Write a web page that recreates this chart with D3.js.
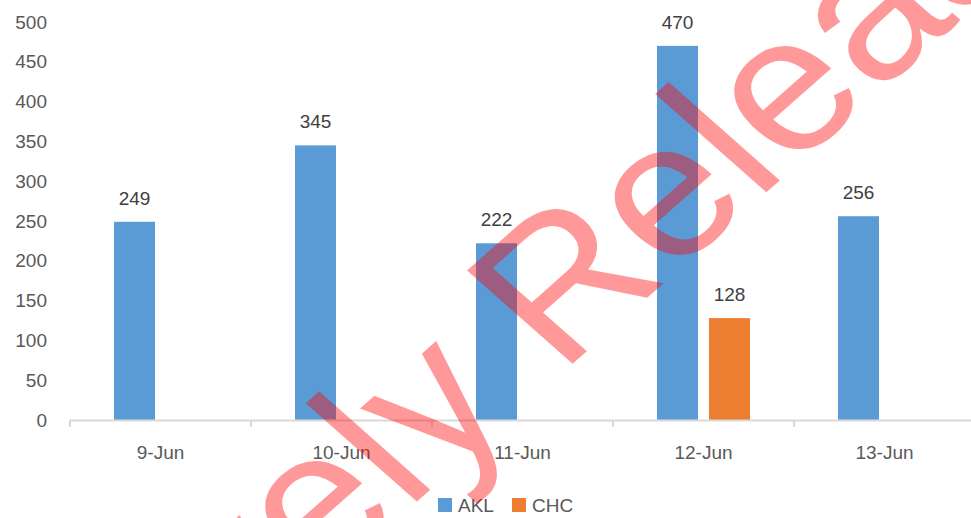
<!DOCTYPE html>
<html>
<head>
<meta charset="utf-8">
<script src="https://cdn.jsdelivr.net/npm/d3@7"></script>
<style>
    body { margin: 0; background: #fff; }
    svg { display: block; font-family: 'Liberation Sans', Arial, sans-serif; }
</style>
</head>
<body>
<svg id="chart"></svg>
<script>
// chart data
const days = ['9-Jun', '10-Jun', '11-Jun', '12-Jun', '13-Jun'];
const series = ['AKL', 'CHC'];
const aklValues = [249, 345, 222, 470, 256];
const chcValues = [null, null, null, 128, null];
const yTicks = [0, 50, 100, 150, 200, 250, 300, 350, 400, 450, 500];
const watermarkText = 'Proactively Released';

const width = 971;
const height = 518;
const colors = { AKL: '#5b9bd5', CHC: '#ed7d31' };

const svg = d3.select('#chart')
    .attr('width', width)
    .attr('height', height);

const x0 = d3.scaleBand()
    .domain(days)
    .range([70, 975])
    .padding(0);

// two bars per day, 41px wide with a small gap between them
const x1 = d3.scaleBand()
    .domain(series)
    .range([0, x0.bandwidth()])
    .paddingInner(0.2115)
    .paddingOuter(0.846);

const y = d3.scaleLinear()
    .domain([0, 500])
    .range([420, 22]);

const rows = days.map((day, i) => ({
    day,
    values: [
        { key: 'AKL', value: aklValues[i] },
        { key: 'CHC', value: chcValues[i] },
    ].filter(d => d.value !== null),
}));

// y axis labels (no axis line, no grid)
svg.append('g')
    .attr('transform', 'translate(70,0)')
    .call(d3.axisLeft(y).tickValues(yTicks).tickSize(0).tickPadding(23))
    .call(g => g.select('.domain').remove())
    .call(g => g.selectAll('text')
        .attr('fill', '#595959')
        .style('font-size', '19px')
        .style('font-family', "'Liberation Sans', Arial, sans-serif"));

// bars
const groups = svg.append('g')
    .selectAll('g')
    .data(rows)
    .join('g')
    .attr('transform', d => `translate(${ x0(d.day) },0)`);

groups.selectAll('rect')
    .data(d => d.values)
    .join('rect')
    .attr('x', d => x1(d.key))
    .attr('y', d => y(d.value))
    .attr('width', x1.bandwidth())
    .attr('height', d => y(0) - y(d.value))
    .attr('fill', d => colors[d.key]);

groups.selectAll('text')
    .data(d => d.values)
    .join('text')
    .attr('x', d => x1(d.key) + x1.bandwidth() / 2)
    .attr('y', d => y(d.value) - 17)
    .attr('text-anchor', 'middle')
    .attr('fill', '#404040')
    .style('font-size', '19px')
    .text(d => d.value);

// x axis: light line, ticks on the category boundaries
const xAxis = svg.append('g');
xAxis.append('line')
    .attr('x1', x0.range()[0])
    .attr('x2', x0.range()[1])
    .attr('y1', y(0) + 0.5)
    .attr('y2', y(0) + 0.5)
    .attr('stroke', '#d9d9d9')
    .attr('stroke-width', 2);
xAxis.selectAll('line.tick')
    .data(days.map(d => x0(d)).concat([x0.range()[1]]))
    .join('line')
    .classed('tick', true)
    .attr('x1', d => d)
    .attr('x2', d => d)
    .attr('y1', y(0))
    .attr('y2', y(0) + 7)
    .attr('stroke', '#d9d9d9')
    .attr('stroke-width', 2);
xAxis.selectAll('text')
    .data(days)
    .join('text')
    .attr('x', d => x0(d) + x0.bandwidth() / 2)
    .attr('y', y(0) + 32)
    .attr('dy', '0.35em')
    .attr('text-anchor', 'middle')
    .attr('fill', '#595959')
    .style('font-size', '19px')
    .text(d => d);

// legend
const legend = svg.append('g')
    .attr('transform', 'translate(438,505)');
const legendOffsets = { AKL: 0, CHC: 74 };
const item = legend.selectAll('g')
    .data(series)
    .join('g')
    .attr('transform', d => `translate(${ legendOffsets[d] },0)`);
item.append('rect')
    .attr('x', 0)
    .attr('y', -7)
    .attr('width', 14)
    .attr('height', 14)
    .attr('fill', d => colors[d]);
item.append('text')
    .attr('x', 20)
    .attr('y', 0)
    .attr('dy', '0.35em')
    .attr('fill', '#595959')
    .style('font-size', '19px')
    .text(d => d);

// watermark over the whole chart. The screenshot is stretched sideways a bit,
// so the 45 degree text gets a horizontal scale too. "R" origin sits near (560,375).
const angle = -45;
const stretch = 1.13;
const mark = svg.append('text')
    .attr('fill', 'red')
    .attr('fill-opacity', 0.4)
    .style('font-size', '192px')
    .style('font-family', "'Liberation Sans', Arial, sans-serif")
    .text(watermarkText);
const prefix = mark.node().getSubStringLength(0, watermarkText.indexOf('R'));
const rad = angle * Math.PI / 180;
const startX = 560 - stretch * prefix * Math.cos(rad);
const startY = 375 - prefix * Math.sin(rad);
mark.attr('transform', `translate(${ startX },${ startY }) scale(${ stretch },1) rotate(${ angle })`);
</script>
</body>
</html>
